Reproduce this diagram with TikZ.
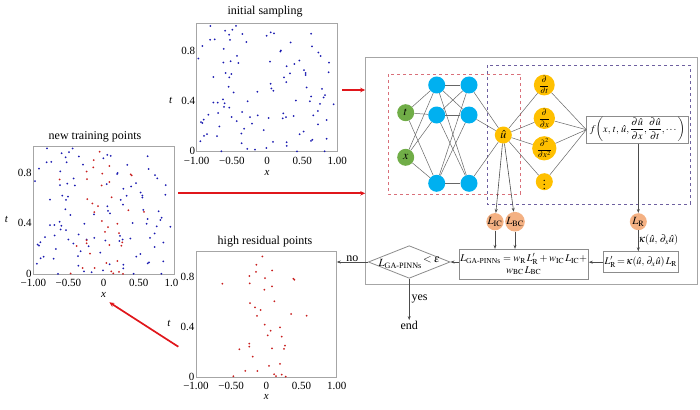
\documentclass[tikz,border=0pt]{standalone}
\usepackage{amsmath}
\usepackage{mathptmx}
\usepackage{fontspec}
\setmainfont{Liberation Serif}
\usetikzlibrary{shapes.geometric,arrows.meta}

\definecolor{gfill}{HTML}{70AD47}
\definecolor{bfill}{HTML}{00B0F0}
\definecolor{yfill}{HTML}{FFC000}
\definecolor{ofill}{HTML}{F4B183}
\definecolor{framegray}{HTML}{A6A6A6}
\definecolor{boxgray}{HTML}{8C8C8C}
\definecolor{dotblue}{HTML}{1A1AB0}
\definecolor{dotred}{HTML}{C81E1E}
\definecolor{arrred}{HTML}{E0161B}
\definecolor{reddash}{HTML}{D9707A}
\definecolor{purpdash}{HTML}{6E60A0}

\def\bluepts{-0.806/0.995, -0.441/0.995, -0.597/0.957, -0.493/0.965, -0.540/0.925, -0.351/0.931, -0.810/0.885, -0.744/0.888, -0.526/0.885, -0.294/0.867, -0.919/0.835, 0.052/0.944, 0.100/0.936, -0.005/0.917, 0.626/0.933, 0.640/0.832, 0.336/0.864, 0.190/0.792, 0.199/0.800, 0.730/0.784, 0.763/0.757, -0.616/0.813, -0.976/0.736, 0.043/0.712, 0.460/0.720, 0.389/0.693, 0.280/0.675, -0.621/0.704, -0.517/0.715, -0.408/0.701, -0.427/0.757, 0.882/0.704, 0.877/0.627, 0.526/0.645, 0.550/0.621, 0.550/0.605, -0.763/0.589, -0.588/0.621, -0.507/0.613, -0.536/0.587, 0.327/0.619, 0.242/0.587, 0.275/0.549, 0.052/0.536, -0.545/0.512, 0.564/0.507, 0.782/0.496, -0.137/0.472, -0.474/0.467, 0.062/0.499, 0.090/0.480, 0.626/0.435, 0.825/0.445, 0.806/0.427, -0.626/0.413, 0.412/0.403, 0.611/0.397, 0.948/0.373, -0.763/0.387, -0.701/0.387, -0.602/0.381, -0.275/0.397, 0.754/0.376, 0.659/0.285, 0.725/0.320, -0.355/0.312, -0.697/0.304, -0.834/0.291, -0.900/0.251, -0.938/0.232, -0.919/0.224, -0.536/0.347, -0.612/0.352, -0.502/0.272, -0.431/0.240, -0.133/0.285, -0.242/0.272, 0.024/0.264, 0.232/0.301, 0.223/0.261, 0.270/0.272, 0.379/0.280, -0.213/0.219, -0.678/0.197, 0.725/0.213, 0.848/0.248, -0.047/0.168, 0.521/0.157, 0.464/0.136, -0.365/0.141, -0.896/0.123, -0.853/0.136, -0.711/0.120, -0.360/0.064, 0.085/0.075, 0.280/0.072, 0.280/0.043, 0.626/0.083, 0.645/0.091, 0.848/0.099, -0.948/0.080, -0.280/0.019, -0.171/0.013, -0.009/0.027, -0.649/0.000, 0.427/0.000, 0.820/0.000, -0.327/0.179}
\def\redpts{-0.057/0.969, -0.142/0.902, 0.081/0.856, -0.147/0.845, -0.242/0.811, -0.019/0.795, 0.384/0.789, 0.398/0.781, -0.626/0.749, -0.237/0.752, 0.081/0.728, -0.028/0.701, 0.114/0.607, -0.232/0.593, -0.161/0.558, -0.081/0.537, 0.351/0.505, 0.573/0.491, -0.133/0.489, -0.024/0.419, 0.194/0.397, 0.062/0.370, 0.019/0.333, 0.218/0.322, -0.242/0.266, 0.265/0.250, -0.242/0.242, 0.081/0.228, 0.251/0.223, -0.384/0.220, -0.194/0.161, 0.194/0.102, 0.038/0.086, -0.299/0.046, -0.128/0.046, 0.109/0.019, 0.218/0.016, 0.137/0.003, -0.469/0.003, 0.275/0.000}

\begin{document}
\begin{tikzpicture}[x=1pt,y=-1pt,
  neuron/.style={circle, minimum size=17pt, inner sep=0pt, font=\fontsize{12}{12}\selectfont},
  dnode/.style={circle, fill=yfill, minimum size=17pt, inner sep=0pt, font=\fontsize{8.5}{8.5}\selectfont},
  lossnode/.style={circle, fill=ofill, minimum size=17pt, inner sep=0pt, font=\fontsize{11}{11}\selectfont},
  netline/.style={draw=black!60, line width=0.5pt},
  blk/.style={draw=black!70, line width=0.6pt, -{Stealth[length=4pt,width=3pt]}},
  redarr/.style={draw=arrred, line width=1.7pt, -{Stealth[length=5pt,width=4.5pt]}},
  plotframe/.style={draw=framegray, line width=0.8pt},
  ticklab/.style={font=\fontsize{11}{11}\selectfont, inner sep=0pt},
  axlab/.style={font=\fontsize{11}{11}\selectfont\itshape, inner sep=0pt},
  ptitle/.style={font=\fontsize{12}{12}\selectfont, inner sep=0pt},
  flowbox/.style={draw=boxgray, line width=0.8pt, inner sep=0pt},
  flowtxt/.style={font=\fontsize{12}{12}\selectfont, inner sep=1pt}
]
\useasboundingbox (0,0) rectangle (700,409);

% ---------- plot: initial sampling ----------
\def\ox{267}\def\oy{151.3}\def\sx{70.3}\def\sy{126}
\draw[plotframe] ({\ox-\sx},{\oy+0.4}) rectangle ({\ox+\sx},{\oy-1.013*\sy});
\foreach \a/\b in \bluepts {\fill[dotblue] ({\ox+\a*\sx},{\oy-\b*\sy}) circle (1pt);}
\node[ptitle] (tinit) at (265,12) {initial sampling};
\foreach \v/\l [count=\k] in {-1/−1.00,-0.5/−0.50,0/0,0.5/0.50,1/1.00}
  \node[ticklab] (xi\k) at ({\ox+\v*\sx},{\oy+9.4}) {\l};
\node[ticklab, anchor=east] (yi1) at ({\ox-\sx-1.5},{\oy-0.8*\sy}) {0.8};
\node[ticklab, anchor=east] (yi2) at ({\ox-\sx-1.5},{\oy-0.4*\sy}) {0.4};
\node[ticklab, anchor=east] (yi3) at ({\ox-\sx-1.5},{\oy}) {0};
\node[axlab] (xli) at (\ox,{\oy+22}) {x};
\node[axlab] (tli) at ({\ox-\sx-26},{\oy-0.4*\sy}) {t};

% ---------- plot: new training points ----------
\def\ox{103.65}\def\oy{273.8}\def\sx{70.35}\def\sy{126}
\draw[plotframe] ({\ox-\sx},{\oy+0.4}) rectangle ({\ox+\sx},{\oy-1.013*\sy});
\foreach \a/\b in \bluepts {\fill[dotblue] ({\ox+\a*\sx},{\oy-\b*\sy}) circle (1pt);}
\foreach \a/\b in \redpts {\fill[dotred] ({\ox+\a*\sx},{\oy-\b*\sy}) circle (1pt);}
\node[ptitle] (tnew) at (95,137.3) {new training points};
\foreach \v/\l [count=\k] in {-1/−1.00,-0.5/−0.50,0/0,0.5/0.50}
  \node[ticklab] (xn\k) at ({\ox+\v*\sx},{\oy+9.4}) {\l};
\node[ticklab, anchor=west] (xn5) at ({\ox+\sx-9.6},{\oy+9.4}) {1.0};
\node[ticklab, anchor=east] (yn1) at ({\ox-\sx-1.5},{\oy-0.8*\sy}) {0.8};
\node[ticklab, anchor=east] (yn2) at ({\ox-\sx-1.5},{\oy-0.4*\sy}) {0.4};
\node[ticklab, anchor=east] (yn3) at ({\ox-\sx-1.5},{\oy}) {0};
\node[axlab] (xln) at (\ox,{\oy+21.5}) {x};
\node[axlab] (tln) at ({\ox-\sx-27},{\oy-0.43*\sy}) {t};

% ---------- plot: high residual points ----------
\def\ox{266.35}\def\oy{376.6}\def\sx{70.35}\def\sy{124}
\draw[plotframe] ({\ox-\sx},{\oy+1}) rectangle ({\ox+\sx},{\oy-1.013*\sy});
\coordinate (hiR) at ({\ox+\sx},{\oy-0.5*\sy});
\foreach \a/\b in \redpts {\fill[dotred] ({\ox+\a*\sx},{\oy-\b*\sy}) circle (1pt);}
\node[ptitle] (thigh) at (265,241.7) {high residual points};
\foreach \v/\l [count=\k] in {-1/−1.00,-0.5/−0.50,0/0,0.5/0.50,1/1.00}
  \node[ticklab] (xh\k) at ({\ox+\v*\sx},{\oy+9.6}) {\l};
\node[ticklab, anchor=east] (yh1) at ({\ox-\sx-1.5},{\oy-0.8*\sy}) {0.8};
\node[ticklab, anchor=east] (yh2) at ({\ox-\sx-1.5},{\oy-0.4*\sy}) {0.4};
\node[ticklab, anchor=east] (yh3) at ({\ox-\sx-1.5},{\oy}) {0};
\node[axlab] (xlh) at (\ox,{\oy+20.5}) {x};
\node[axlab] (tlh) at ({\ox-\sx-27},{\oy-0.43*\sy}) {t};

% ---------- main framework box ----------
\node[draw=framegray, line width=1pt, minimum width=331.3pt, minimum height=226.3pt, inner sep=0pt] (main) at (531.35,171.15) {};
\draw[reddash, dashed, line width=0.6pt] (388,74) rectangle (520,194);
\draw[purpdash, dashed, line width=0.6pt] (487,65) rectangle (690,204);

% neurons
\node[neuron, fill=gfill] (it) at (405.7,112.7) {$t$};
\node[neuron, fill=gfill] (ix) at (405.7,157.3) {$x$};
\foreach \n/\y in {a/85,b/115,c/183.3} {
  \node[neuron, fill=bfill] (h1\n) at (436.7,\y) {};
  \node[neuron, fill=bfill] (h2\n) at (469,\y) {};
}
\node[neuron, fill=yfill] (uh) at (503.3,135) {$\hat{u}$};
\node[dnode] (d1) at (544.3,85) {$\dfrac{\partial}{\partial t}$};
\node[dnode] (d2) at (544.3,118.3) {$\dfrac{\partial}{\partial x}$};
\node[dnode] (d3) at (544.3,148.3) {$\dfrac{\partial^2}{\partial x^2}$};
\node[dnode, font=\fontsize{12}{12}\selectfont] (d4) at (544.3,181.7) {$\vdots$};
\node[flowbox, minimum width=101.6pt, minimum height=27.3pt, font=\fontsize{10.2}{12}\selectfont] (fb) at (637.5,129.7)
  {$f\!\left(x,\,t,\,\hat{u},\dfrac{\partial\hat{u}}{\partial x},\dfrac{\partial\hat{u}}{\partial t},\cdots\right)$};

% network edges
\foreach \i in {it,ix} \foreach \h in {h1a,h1b,h1c} \draw[netline] (\i) -- (\h);
\foreach \a in {h1a,h1b,h1c} \foreach \b in {h2a,h2b,h2c} \draw[netline] (\a) -- (\b);
\foreach \a in {h2a,h2b,h2c} \draw[netline] (\a) -- (uh);
\foreach \d in {d1,d2,d3,d4} {\draw[netline] (uh) -- (\d); \draw[netline] (\d) -- (fb.west);}

% loss nodes
\node[lossnode] (LIC) at (495,221.7) {$L_{\mathrm{IC}}$};
\node[lossnode] (LBC) at (515,221.7) {$L_{\mathrm{BC}}$};
\node[lossnode] (LR) at (638.3,221.7) {$L_{\mathrm{R}}$};

\node[flowbox, minimum width=129.3pt, minimum height=30pt, align=center, font=\fontsize{10.3}{11.5}\selectfont] (GA) at (523.7,264.3)
  {$L_{\text{GA-PINNs}}=w_{\mathrm{R}}\,L'_{\mathrm{R}}+w_{\mathrm{IC}}\,L_{\mathrm{IC}}+$\\ $w_{\mathrm{BC}}\,L_{\mathrm{BC}}$};
\node[flowbox, minimum width=75pt, minimum height=21pt, font=\fontsize{10.2}{11}\selectfont] (LRp) at (640.8,262.2)
  {$L'_{\mathrm{R}}\!=\!\kappa(\hat{u},\,\partial_x\hat{u})\,L_{\mathrm{R}}$};
\node[draw=boxgray, line width=0.8pt, diamond, minimum width=81.7pt, minimum height=32.6pt, inner sep=0pt] (dia) at (409.2,262) {};
\node[inner sep=0pt, font=\fontsize{11}{11}\selectfont] (diatxt) at (409.2,262.5)
  {$L_{\text{GA-PINNs}}\raisebox{4pt}{$\,<\varepsilon$}$};
\node[flowtxt] (endn) at (409.2,325.5) {end};

% arrows
\draw[blk] (uh) -- (LIC);
\draw[blk] (uh) -- (LBC);
\draw[blk] (fb.south -| LR) -- (LR);
\draw[blk] (LR) -- (LR |- LRp.north) node[midway, right, xshift=-1pt, yshift=1pt, font=\fontsize{10.5}{11}\selectfont, inner sep=1pt] {$\kappa(\hat{u},\,\partial_x\hat{u})$};
\draw[blk] (LIC) -- (LIC |- GA.north);
\draw[blk] (LBC) -- (LBC |- GA.north);
\draw[blk] (LRp.west) -- (LRp.west -| GA.east);
\draw[blk] (GA.west |- dia) -- (dia.east);
\draw[blk] (dia.west) -- (dia.west -| hiR) node[midway, above, flowtxt, yshift=-1pt] {no};
\draw[blk] (dia.south) -- (endn.north) node[midway, right, flowtxt, xshift=1pt] {yes};

% red arrows
\coordinate (r1) at (342.3,90);
\coordinate (r2) at (178.3,193.3);
\coordinate (r3s) at (178.3,346.7);
\coordinate (r3e) at (109.3,302.3);
\draw[redarr] (r1) -- (r1 -| main.west);
\draw[redarr] (r2) -- (r2 -| main.west);
\draw[redarr] (r3s) -- (r3e);
\end{tikzpicture}
\end{document}
